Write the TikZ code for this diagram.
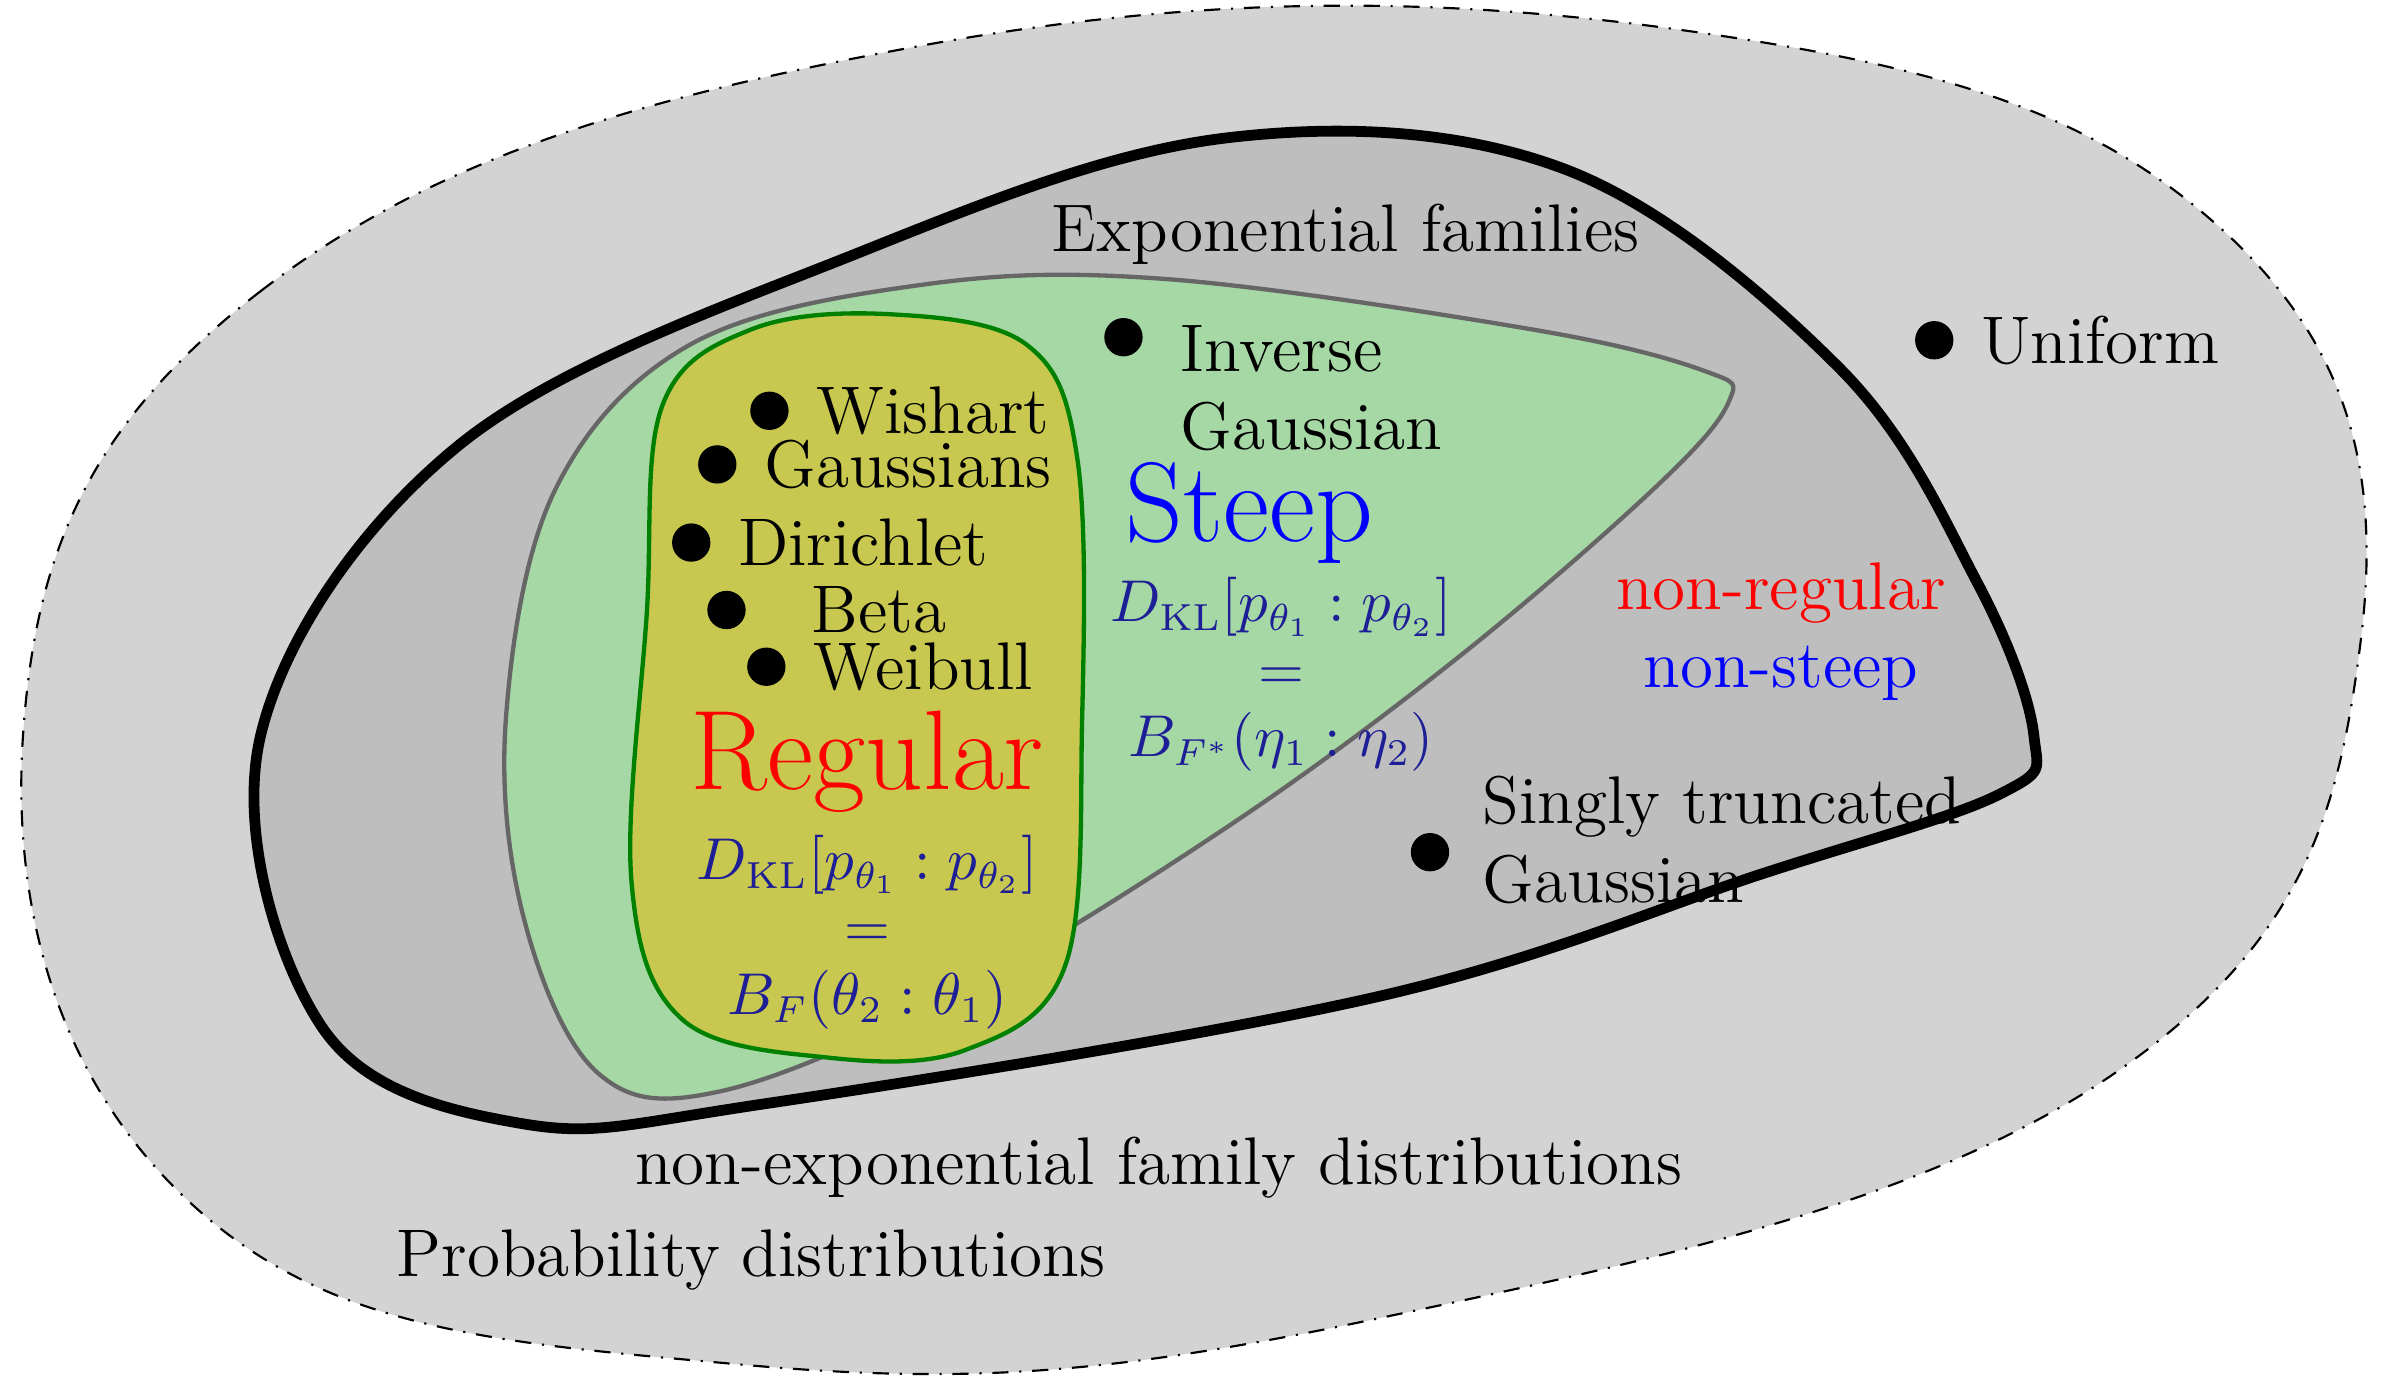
\documentclass[tikz,border=0pt]{standalone}
\usepackage{tikz}
\usetikzlibrary{positioning}
\definecolor{probgray}{RGB}{211,211,211}
\definecolor{expgray}{RGB}{190,190,190}
\definecolor{steepgreen}{RGB}{166,216,166}
\definecolor{regyellow}{RGB}{200,200,80}
\definecolor{formblue}{RGB}{30,30,150}
\tikzset{
  dot/.style={circle, fill=black, inner sep=0pt, minimum size=0.25cm},
  lbl/.style={font=\fontsize{12.5}{14.5}\selectfont, align=left},
  form/.style={text=formblue, font=\fontsize{10.5}{12.5}\selectfont, align=center}
}
\begin{document}
\begin{tikzpicture}[x=0.01cm, y=-0.01cm]
    \useasboundingbox (0,0) rectangle (1560,909);
    % Regions
    \draw[fill=probgray, dash dot, thin] plot[smooth cycle, tension=0.7] coordinates
      {(15,480) (170,190) (600,30) (1100,20) (1450,150) (1540,420) (1380,700) (900,860) (480,890) (130,790)};
    \draw[fill=expgray, line width=2pt] plot[smooth cycle, tension=0.6] coordinates
      {(170,480) (300,290) (560,165) (800,90) (1020,110) (1200,240) (1290,380) (1327,480) (1305,518) (1150,570) (900,650) (500,720) (340,733) (210,670)};
    \draw[fill=steepgreen, draw=black!60, thick] plot[smooth cycle, tension=0.6] coordinates
      {(330,470) (362,320) (450,225) (600,186) (760,182) (1000,215) (1112,242) (1128,262) (1080,318) (950,430) (800,540) (620,650) (470,712) (390,700) (342,600)};
    \draw[fill=regyellow, draw=black!50!green, thick] plot[smooth cycle, tension=0.6] coordinates
      {(432,265) (490,215) (580,205) (670,225) (703,300) (706,470) (695,630) (630,685) (540,690) (445,665) (412,575) (422,400)};
    % Dots
    \node[dot] (wishart) at (502,268) {};
    \node[dot] (gauss) at (468,303) {};
    \node[dot] (dirichlet) at (451,354) {};
    \node[dot] (beta) at (474,398) {};
    \node[dot] (weibull) at (500,435) {};
    \node[dot] (invgauss) at (733,220) {};
    \node[dot] (uniform) at (1262,222) {};
    \node[dot] (truncgauss) at (933,556) {};
    % Labels
    \node[lbl, right=0.05cm of wishart] {Wishart};
    \node[lbl, right=0.05cm of gauss] {Gaussians};
    \node[lbl, right=0.05cm of dirichlet] {Dirichlet};
    \node[lbl, right=0.3cm of beta] {Beta};
    \node[lbl, right=0.05cm of weibull] {Weibull};
    \node[lbl, anchor=north west] (invlbl) at (758,200) {Inverse\\Gaussian};
    \node[lbl, right=0.05cm of uniform] {Uniform};
    \node[lbl, anchor=west] (trunclbl) at (955,548) {Singly truncated\\Gaussian};
    \node[lbl] (explbl) at (878,153) {Exponential families};
    \node[lbl] (nonexp) at (756,762) {non-exponential family distributions};
    \node[lbl] (problbl) at (490,822) {Probability distributions};
    \node[lbl, align=center] (nonreg) at (1162,412) {\textcolor{red}{non-regular}\\\textcolor{blue}{non-steep}};
    % Regular and steep
    \node[text=red, font=\fontsize{21}{25}\selectfont] (regular) at (566,497) {Regular};
    \node[form] (regform) at (566,608) {$D_{\mathrm{KL}}[p_{\theta_1}:p_{\theta_2}]$\\$=$\\$B_F(\theta_2:\theta_1)$};
    \node[text=blue, font=\fontsize{21}{25}\selectfont] (steep) at (815,335) {Steep};
    \node[form] (steepform) at (836,440) {$D_{\mathrm{KL}}[p_{\theta_1}:p_{\theta_2}]$\\$=$\\$B_{F^*}(\eta_1:\eta_2)$};
\end{tikzpicture}
\end{document}
